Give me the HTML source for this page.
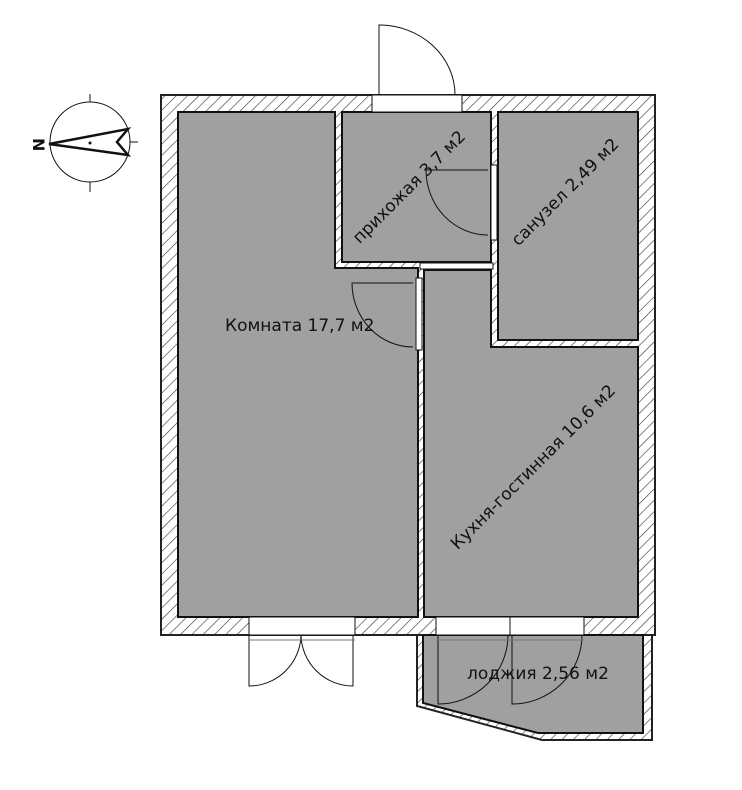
<!DOCTYPE html>
<html><head><meta charset="utf-8"><style>
html,body{margin:0;padding:0;background:#fff;width:742px;height:790px;overflow:hidden}
text{font-family:"DejaVu Sans","Liberation Sans",sans-serif;fill:#111}
</style></head><body>
<svg width="742" height="790" viewBox="0 0 742 790" xmlns="http://www.w3.org/2000/svg">
<defs>
<pattern id="h" width="8" height="8" patternUnits="userSpaceOnUse" patternTransform="rotate(45)">
<rect width="8" height="8" fill="#fff"/>
<line x1="0" y1="0" x2="0" y2="8" stroke="#333" stroke-width="1.2"/>
</pattern>
</defs>
<rect x="161" y="95" width="494" height="540" fill="url(#h)" stroke="#222" stroke-width="2"/>
<polygon points="417,635 652,635 652,740 542,740 417,706" fill="url(#h)" stroke="#222" stroke-width="2"/>
<g fill="#a0a0a0" stroke="#111" stroke-width="2">
<polygon points="178,112 335,112 335,268 418,268 418,617 178,617"/>
<rect x="342" y="112" width="149" height="150"/>
<rect x="498" y="112" width="140" height="228"/>
<polygon points="424,270 491,270 491,347 638,347 638,617 424,617"/>
<polygon points="423,635 643,635 643,733 538,733 423,703"/>
</g>
<g fill="#fff" stroke="#111" stroke-width="1">
<rect x="372" y="95" width="90" height="17"/>
<rect x="249" y="617" width="106" height="18"/>
<rect x="436" y="617" width="74" height="18"/>
<rect x="510" y="617" width="74" height="18"/>
<rect x="420" y="263" width="73" height="6"/>
<rect x="416" y="278" width="6" height="72"/>
<rect x="491" y="165" width="6" height="75"/>
</g>
<g fill="none" stroke="#111" stroke-width="1">
<path d="M379,95 V25 A76,70 0 0 1 455,95"/>
<path d="M249,635 V686 A52,52 0 0 0 301,635"/>
<path d="M353,635 V686 A52,52 0 0 1 301,635"/>
<path d="M438,635 V704 A70,69 0 0 0 508,635"/>
<path d="M512,635 V704 A70,69 0 0 0 582,635"/>
<path d="M488,170 H426 A62,65 0 0 0 488,235"/>
<path d="M413,283 H352 A61,64 0 0 0 413,347"/>
<line x1="249" y1="640" x2="355" y2="640" stroke="#777"/>
<line x1="436" y1="640" x2="584" y2="640" stroke="#777"/>
</g>
<g fill="none" stroke="#111" stroke-width="1">
<circle cx="90" cy="142" r="40"/>
<line x1="90" y1="94" x2="90" y2="102"/><line x1="90" y1="182" x2="90" y2="192"/>
<line x1="130" y1="142" x2="138" y2="142"/>
<polygon points="49,144 128,129 117,142 128,155" stroke-width="2.5" stroke-linejoin="miter"/>
</g>
<circle cx="90" cy="143" r="1.5" fill="#111"/>
<text font-size="16" font-weight="bold" transform="translate(38,144) rotate(90) translate(-6,5)">N</text>
<text x="225" y="331" font-size="17">Комната 17,7 м2</text>
<text font-size="17" text-anchor="middle" transform="translate(413,191) rotate(-45)">прихожая 3,7 м2</text>
<text font-size="17" text-anchor="middle" transform="translate(569,196) rotate(-45)">санузел 2,49 м2</text>
<text font-size="17" text-anchor="middle" transform="translate(537,471) rotate(-45)">Кухня-гостинная 10,6 м2</text>
<text x="467" y="679" font-size="17">лоджия 2,56 м2</text>
</svg>
</body></html>
